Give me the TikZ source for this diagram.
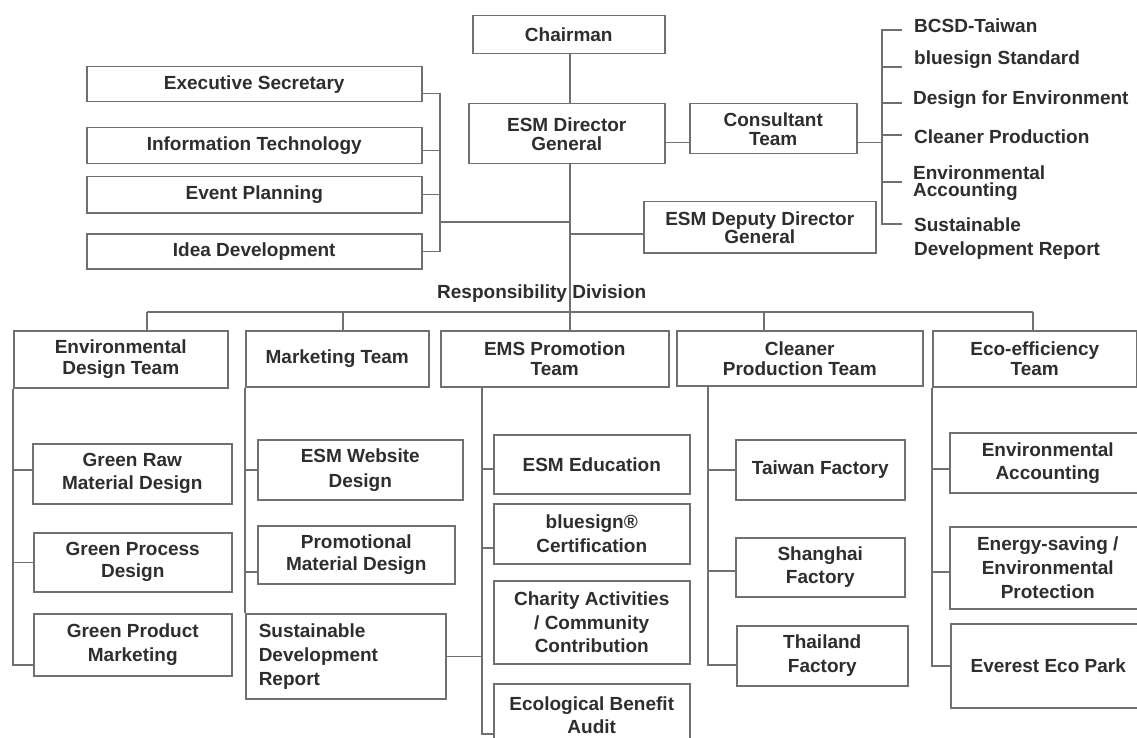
\documentclass[tikz,border=0pt]{standalone}
\usepackage{fontspec}
\setmainfont{Liberation Sans}
\definecolor{ln}{HTML}{707070}
\definecolor{tx}{HTML}{2E2E2E}
\begin{document}
\begin{tikzpicture}[x=1pt,y=-1pt,
  bs/.style={font=\bfseries\fontsize{19}{#1}\selectfont},
  box/.style={draw=ln, line width=1.5pt, text=tx, bs=23, align=center, inner sep=0pt, anchor=north west},
  conn/.style={draw=ln, line width=1.5pt},
  lbl/.style={text=tx, bs=23, inner sep=0pt, anchor=west, align=left}]
\fill[white] (0,0) rectangle (1137,738);
\useasboundingbox (0,0) rectangle (1137,738);

% top
\node[box, minimum width=192pt, minimum height=38pt] (chair) at (472,15) {Chairman};
\node[box, bs=19, minimum width=196pt, minimum height=60pt] (dg) at (468,103) {ESM Director\\General};
\node[box, bs=19, minimum width=167pt, minimum height=50pt] (con) at (689,103) {Consultant\\Team};
\node[box, bs=18, minimum width=232pt, minimum height=51pt] (dep) at (643,201) {ESM Deputy Director\\General};
\node[box, minimum width=335pt, minimum height=35pt] (es) at (86,66) {Executive Secretary};
\node[box, minimum width=335pt, minimum height=36pt] (it) at (86,127) {Information Technology};
\node[box, minimum width=335pt, minimum height=36pt] (ep) at (86,176) {Event Planning};
\node[box, minimum width=335pt, minimum height=35pt] (idea) at (86,233) {Idea Development};

% consultant list
\node[lbl] (c1) at (914,26) {BCSD-Taiwan};
\node[lbl] (c2) at (914,60) {bluesign Standard};
\node[lbl] (c3) at (913,100) {Design for Environment};
\node[lbl] (c4) at (914,137) {Cleaner Production};
\node[lbl, bs=17] (c5) at (913,183.5) {Environmental\\Accounting};
\node[lbl, bs=24] (c6) at (914,239) {Sustainable\\Development Report};

\node[text=tx, bs=23, inner sep=0pt] (resp) at (541.7,294) {Responsibility Division};

% teams
\node[box, bs=21, minimum width=214pt, minimum height=57pt] (edt) at (13,330) {Environmental\\Design Team};
\node[box, minimum width=183pt, minimum height=56pt] (mkt) at (245,330) {Marketing Team};
\node[box, bs=20, minimum width=228pt, minimum height=56pt] (ems) at (440,330) {EMS Promotion\\Team};
\node[box, bs=20, minimum width=246pt, minimum height=55pt] (cpt) at (676,330) {Cleaner\\Production Team};
\node[box, bs=20, minimum width=204pt, minimum height=56pt] (eco) at (932,330) {Eco-efficiency\\Team};

% children
\node[box, minimum width=199pt, minimum height=60pt] (grm) at (32,443) {Green Raw\\Material Design};
\node[box, bs=22, minimum width=198pt, minimum height=59pt] (gpd) at (33,532) {Green Process\\Design};
\node[box, bs=24, minimum width=198pt, minimum height=62pt] (gpm) at (33,613) {Green Product\\Marketing};
\node[box, bs=25, minimum width=205pt, minimum height=60pt] (web) at (257,439) {ESM Website\\Design};
\node[box, bs=22, minimum width=197pt, minimum height=58pt] (pro) at (257,525) {Promotional\\Material Design};
\node[box, bs=24, align=left, inner xsep=13pt, text width=174pt, minimum width=200pt, minimum height=85pt] (sdr) at (245,613) {Sustainable\\Development\\Report};
\node[box, minimum width=196pt, minimum height=59pt] (edu) at (493,434) {ESM Education};
\node[box, bs=24, minimum width=196pt, minimum height=60pt] (blu) at (493,503) {bluesign®\\Certification};
\node[box, bs=23.5, minimum width=196pt, minimum height=83pt] (cha) at (493,580) {Charity Activities\\/ Community\\Contribution};
\node[box, minimum width=196pt, minimum height=62pt] (ecb) at (493,683) {Ecological Benefit\\Audit};
\node[box, minimum width=169pt, minimum height=60pt] (tf) at (735,439) {Taiwan Factory};
\node[box, minimum width=169pt, minimum height=59pt] (sf) at (735,537) {Shanghai\\Factory};
\node[box, bs=24, minimum width=171pt, minimum height=60pt] (thf) at (736,625) {Thailand\\Factory};
\node[box, minimum width=196pt, minimum height=60pt] (ea) at (949,432) {Environmental\\Accounting};
\node[box, bs=24, minimum width=196pt, minimum height=82pt] (ens) at (949,526) {Energy-saving /\\Environmental\\Protection};
\node[box, minimum width=195pt, minimum height=84pt] (evp) at (950,623) {Everest Eco Park};

% helper coordinates
\coordinate (mvx) at (570,0);
\coordinate (lbx) at (440,0);
\coordinate (rbx) at (882,0);
\coordinate (emx) at (482,0);
\coordinate (cpx) at (708,0);

% main vertical
\draw[conn] (chair.south -| mvx) -- (dg.north -| mvx);
\draw[conn] (dg.south -| mvx) -- (ems.north -| mvx);

% left staff bracket
\coordinate (l1) at ([yshift=-9.5pt]es.east);
\coordinate (l2) at ([yshift=-5pt]it.east);
\draw[conn] (l1) -- (l1 -| lbx) -- (idea.east -| lbx) -- (idea.east);
\draw[conn] (l2) -- (l2 -| lbx);
\draw[conn] (ep.east) -- (ep.east -| lbx);
\coordinate (lj) at (440,222);
\draw[conn] (lj) -- (lj -| mvx);

% deputy
\coordinate (dj) at ([yshift=-6.5pt]dep.west);
\draw[conn] (dj -| mvx) -- (dj);

% consultant
\coordinate (dgc) at ([yshift=-9pt]dg.east);
\draw[conn] (dgc) -- (dgc -| con.west);
\draw[conn] (dgc -| con.east) -- (dgc -| rbx);
\coordinate (s1) at (902,30);
\coordinate (s2) at (902,67);
\coordinate (s3) at (902,103);
\coordinate (s4) at (902,135);
\coordinate (s5) at (902,182);
\coordinate (s6) at (902,224);
\draw[conn] (s1) -- (s1 -| rbx) -- (s6 -| rbx) -- (s6);
\foreach \s in {s2,s3,s4,s5} \draw[conn] (\s -| rbx) -- (\s);

% bus
\coordinate (d1) at (147,312);
\coordinate (d2) at (343,312);
\coordinate (d4) at (764,312);
\coordinate (d5) at (1033,312);
\draw[conn] (d1) -- (d5);
\draw[conn] (d1) -- (d1 |- edt.north);
\draw[conn] (d2) -- (d2 |- mkt.north);
\draw[conn] (d4) -- (d4 |- cpt.north);
\draw[conn] (d5) -- (d5 |- eco.north);

% environmental design
\coordinate (g1) at ([yshift=4pt]grm.west);
\coordinate (g3) at ([yshift=-20pt]gpm.west);
\draw[conn] (edt.south west) -- (g3 -| edt.west) -- (g3);
\draw[conn] (g1 -| edt.west) -- (g1);
\draw[conn] (gpd.west -| edt.west) -- (gpd.west);

% marketing
\coordinate (m2) at ([yshift=-17pt]pro.west);
\draw[conn] (mkt.south west) -- (sdr.north west);
\draw[conn] (web.west -| mkt.west) -- (web.west);
\draw[conn] (m2 -| mkt.west) -- (m2);
\draw[conn] (sdr.east) -- (sdr.east -| emx);

% EMS promotion
\coordinate (e1) at ([yshift=-4.5pt]edu.west);
\coordinate (e2) at ([yshift=-14pt]blu.west);
\coordinate (e4) at ([yshift=-19pt]ecb.west);
\draw[conn] (ems.south -| emx) -- (e4 -| emx) -- (e4);
\draw[conn] (e1 -| emx) -- (e1);
\draw[conn] (e2 -| emx) -- (e2);

% cleaner production
\coordinate (t2) at ([yshift=-3.5pt]sf.west);
\coordinate (t3) at ([yshift=-9pt]thf.west);
\draw[conn] (cpt.south -| cpx) -- (t3 -| cpx) -- (t3);
\draw[conn] (tf.west -| cpx) -- (tf.west);
\draw[conn] (t2 -| cpx) -- (t2);

% eco-efficiency
\coordinate (v1) at ([yshift=-6pt]ea.west);
\coordinate (v2) at ([yshift=-4pt]ens.west);
\draw[conn] (eco.south west) -- (evp.west -| eco.west) -- (evp.west);
\draw[conn] (v1 -| eco.west) -- (v1);
\draw[conn] (v2 -| eco.west) -- (v2);
\end{tikzpicture}
\end{document}
